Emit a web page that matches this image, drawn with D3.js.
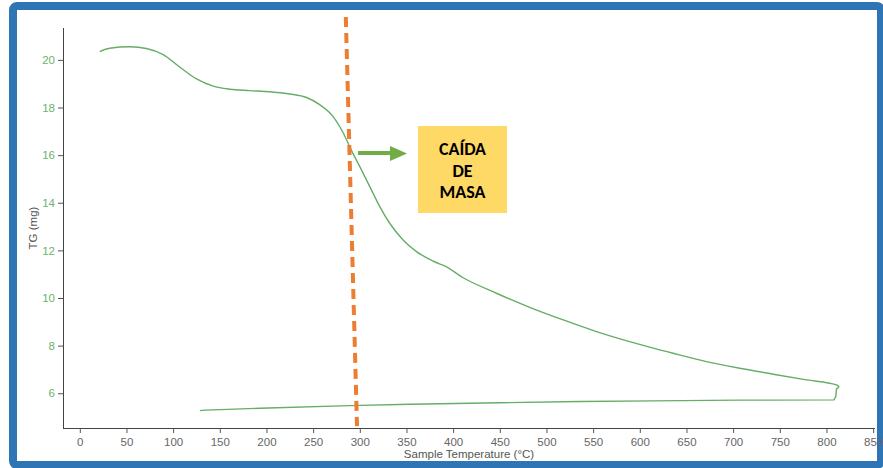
<!DOCTYPE html>
<html><head><meta charset="utf-8">
<script src="https://cdn.jsdelivr.net/npm/d3@7"></script>
<style>html,body{margin:0;padding:0;background:#fff;}svg{display:block;}</style>
</head><body>
<svg id="c" width="883" height="468"></svg>
<script>
// Heating branch (Sample Temperature °C, TG mg)
const heatT = [21.4, 32, 53.6, 71.4, 89.3, 107, 125, 142.9, 160.7, 182, 203.6, 225, 243, 257, 271.4, 282, 291, 300, 310.7, 321.4, 332, 346.4, 360.7, 378.6, 386, 389, 410.7, 446.4, 482, 518, 553.6, 589, 635.7, 671.4, 707, 743, 778.6, 810.7, 813.6];
const heatV = [20.35, 20.49, 20.55, 20.48, 20.22, 19.70, 19.20, 18.90, 18.77, 18.71, 18.66, 18.57, 18.42, 18.12, 17.62, 16.95, 16.20, 15.52, 14.68, 13.84, 13.14, 12.44, 11.95, 11.55, 11.42, 11.38, 10.85, 10.20, 9.61, 9.08, 8.59, 8.17, 7.68, 7.33, 7.05, 6.80, 6.56, 6.35, 6.28];
// Return branch
const coolT = [813.6, 810.7, 810, 808, 707, 614, 536, 450, 354, 289, 193, 135, 128.6];
const coolV = [6.28, 6.17, 5.86, 5.72, 5.71, 5.68, 5.65, 5.60, 5.54, 5.48, 5.37, 5.29, 5.27];
const xTicks = [0,50,100,150,200,250,300,350,400,450,500,550,600,650,700,750,800,850];
const yTicks = [6,8,10,12,14,16,18,20];
const markerT = [285, 297];   // dashed marker, top and bottom temperatures
const markerV = [21.8, 4.62];
const boxLines = ["CAÍDA","DE","MASA"];

const svg = d3.select("#c");
// frame
svg.append("rect").attr("x",13).attr("y",6).attr("width",868).attr("height",459)
  .attr("rx",4).attr("fill","#fff").attr("stroke","#2E75B6").attr("stroke-width",8);

const x = d3.scaleLinear().domain([-18, 852]).range([63, 875]);
const y = d3.scaleLinear().domain([4.54, 21.34]).range([428, 28]);

const font = "'Liberation Sans', Arial, sans-serif";
// X axis
const gx = svg.append("g").attr("transform","translate(0,428)");
gx.call(d3.axisBottom(x).tickValues(d3.range(25,852,50)).tickSize(3).tickFormat(""));
gx.call(d3.axisBottom(x).tickValues(xTicks).tickSize(5).tickPadding(5).tickFormat(d3.format("d")));
gx.selectAll("path.domain").attr("stroke","#444").attr("d","M63,0.5H875");
gx.selectAll("line").attr("stroke","#555");
gx.selectAll("text").attr("fill","#666").style("font-family",font).style("font-size","11.5px");
// Y axis
const gy = svg.append("g").attr("transform","translate(63,0)");
gy.call(d3.axisLeft(y).tickValues([5,7,9,11,13,15,17,19,21]).tickSize(3).tickFormat(""));
gy.call(d3.axisLeft(y).tickValues(yTicks).tickSize(5).tickPadding(3).tickFormat(d3.format("d")));
gy.selectAll("path.domain").attr("stroke","#444").attr("d","M0.5,28V428");
gy.selectAll("line").attr("stroke","#555");
gy.selectAll("text").attr("fill","#6db36d").style("font-family",font).style("font-size","11.5px");

svg.append("text").attr("transform","translate(37,228) rotate(-90)").attr("text-anchor","middle")
  .attr("fill","#555").style("font-family",font).style("font-size","11.5px").text("TG (mg)");
svg.append("text").attr("x",469).attr("y",458).attr("text-anchor","middle")
  .attr("fill","#555").style("font-family",font).style("font-size","11.5px").text("Sample Temperature (°C)");

// curve
const heat = heatT.map((t,i)=>[t,heatV[i]]);
const cool = coolT.map((t,i)=>[t,coolV[i]]);
const line = d3.line().x(d=>x(d[0])).y(d=>y(d[1]));
svg.append("path").attr("d", line.curve(d3.curveMonotoneX)(heat))
  .attr("fill","none").attr("stroke","#66ad66").attr("stroke-width",1.4);
svg.append("path").attr("d", line.curve(d3.curveLinear)(cool))
  .attr("fill","none").attr("stroke","#66ad66").attr("stroke-width",1.4);

// orange dashed marker
svg.append("line").attr("x1",x(markerT[0])).attr("y1",y(markerV[0])).attr("x2",x(markerT[1])).attr("y2",y(markerV[1]))
  .attr("stroke","#ED7D31").attr("stroke-width",4).attr("stroke-dasharray","10,6");

// arrow
svg.append("line").attr("x1",358).attr("y1",153).attr("x2",392).attr("y2",153)
  .attr("stroke","#70AD47").attr("stroke-width",4);
svg.append("path").attr("d","M390,146L407,153.5L390,161Z").attr("fill","#70AD47");

// box
svg.append("rect").attr("x",418).attr("y",126).attr("width",89).attr("height",87).attr("fill","#FFD966");
svg.append("g").selectAll("text").data(boxLines).join("text")
  .attr("x",462.5).attr("y",(d,i)=>155+i*21.7).attr("text-anchor","middle")
  .attr("fill","#000").style("font-family","Calibri, Carlito, 'Liberation Sans', Arial, sans-serif")
  .style("font-weight","bold").style("font-size","18px").text(d=>d);
</script>
</body></html>
